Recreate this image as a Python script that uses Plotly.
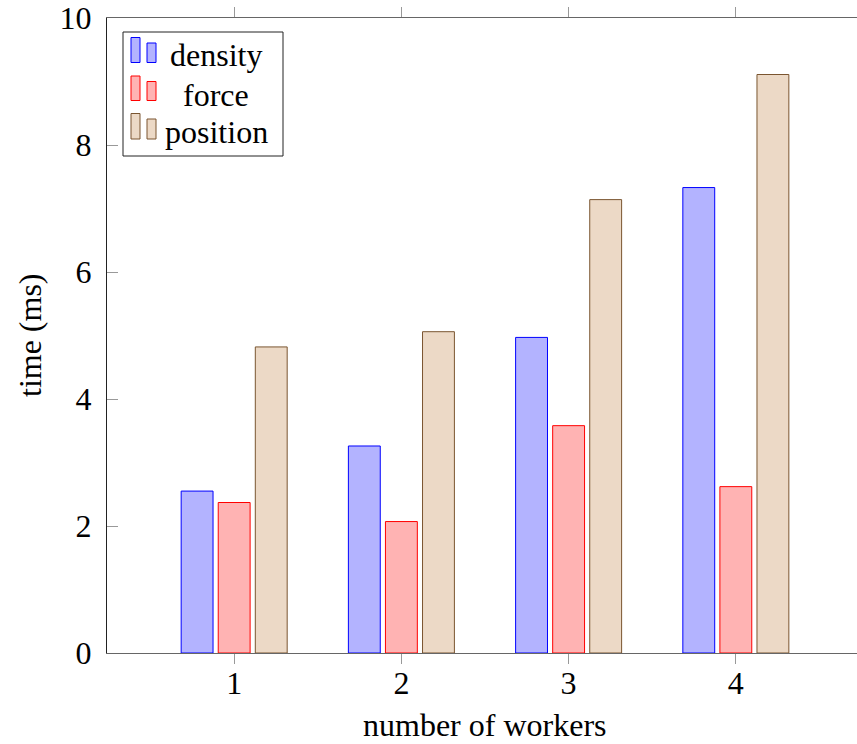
import plotly.graph_objects as go

# Timing results per number of workers (ms)
workers = [1, 2, 3, 4]
density = [2.55, 3.26, 4.97, 7.33]
force = [2.37, 2.07, 3.58, 2.62]
position = [4.82, 5.06, 7.14, 9.11]

series_names = ["density", "force", "position"]
fills = ["#b3b3ff", "#ffb3b3", "#ecd9c6"]
edges = ["#0000ff", "#ff0000", "#7a5530"]

FONT = "Liberation Serif, Times New Roman, serif"
FS = 32
W, H = 857, 744
ML, MR, MT, MB = 107, 0, 18, 91

fig = go.Figure()
for name, vals, fc, ec in zip(series_names, [density, force, position], fills, edges):
    fig.add_trace(go.Bar(
        x=workers, y=vals, name=name,
        marker=dict(color=fc, line=dict(color=ec, width=1)),
        showlegend=False,
    ))

# Pixel -> paper helpers for the hand-drawn legend and axis titles
pw, ph = W - ML - MR, H - MT - MB


def px(x):
    return (x - ML) / pw


def py(y):
    return (H - MB - y) / ph


shapes = [dict(type="rect", xref="paper", yref="paper",
               x0=px(123), x1=px(283), y0=py(156), y1=py(32),
               line=dict(color="#222", width=1), fillcolor="white", layer="above")]
annotations = []
rows = [(37.5, 62.5, 55), (76, 100.5, 95), (113.5, 139, 132)]
for (top, bot, ty), name, fc, ec in zip(rows, series_names, fills, edges):
    shapes.append(dict(type="rect", xref="paper", yref="paper",
                       x0=px(131), x1=px(140), y0=py(bot), y1=py(top),
                       line=dict(color=ec, width=1), fillcolor=fc, layer="above"))
    shapes.append(dict(type="rect", xref="paper", yref="paper",
                       x0=px(147), x1=px(156), y0=py(bot), y1=py(top + 5.5),
                       line=dict(color=ec, width=1), fillcolor=fc, layer="above"))
    annotations.append(dict(xref="paper", yref="paper", x=px(216), y=py(ty),
                            text=name, showarrow=False, xanchor="center", yanchor="middle",
                            font=dict(family=FONT, size=FS, color="black")))

# Axis titles
annotations.append(dict(xref="paper", yref="paper", x=px(484), y=py(725),
                        text="number of workers", showarrow=False,
                        xanchor="center", yanchor="middle",
                        font=dict(family=FONT, size=FS, color="black")))
annotations.append(dict(xref="paper", yref="paper", x=px(30), y=py(335),
                        text="time (ms)", showarrow=False, textangle=-90,
                        xanchor="center", yanchor="middle",
                        font=dict(family=FONT, size=FS, color="black")))

fig.update_layout(
    width=W, height=H,
    margin=dict(l=ML, r=MR, t=MT, b=MB, autoexpand=False),
    paper_bgcolor="white", plot_bgcolor="white",
    barmode="group", bargap=0.335, bargroupgap=0.14,
    font=dict(family=FONT, size=FS, color="black"),
    shapes=shapes, annotations=annotations,
    yaxis2=dict(
        overlaying="y", side="right", anchor="x", range=[0, 10], dtick=2,
        ticks="inside", ticklen=6, tickcolor="#999", tickwidth=1,
        showline=False, showgrid=False, zeroline=False, showticklabels=False,
        automargin=False,
    ),
)

fig.update_xaxes(
    range=[1 - 127 / 167, 4 + 121 / 167],
    tickvals=workers, ticktext=[str(w) for w in workers],
    ticks="outside", ticklen=10, tickcolor="#999", tickwidth=1,
    showline=True, linecolor="#666", linewidth=1, mirror="ticks",
    showgrid=False, zeroline=False, automargin=False,
    ticklabelstandoff=-8,
)
fig.layout.yaxis.update(range=[0, 10], dtick=2, ticks="inside", ticklen=11,
                        tickcolor="#999", tickwidth=1, showline=True, linecolor="#222",
                        mirror=False, showgrid=False, zeroline=False,
                        automargin=False, ticklabelstandoff=8)

fig.write_html("out.html")
